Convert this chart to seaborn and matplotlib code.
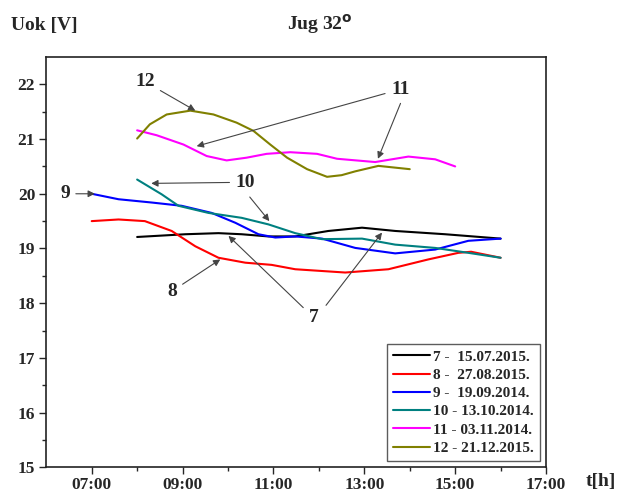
import pandas as pd
import matplotlib.pyplot as plt
import seaborn as sns

# hours of day, with the voltage Uok [V]
t7 = [8.0, 9.06, 9.79, 10.30, 10.89, 11.48, 12.21, 12.95, 13.68, 14.78, 16.0]
u7 = [19.21, 19.26, 19.28, 19.26, 19.22, 19.22, 19.32, 19.38, 19.32, 19.26, 19.18]

t8 = [7.0, 7.59, 8.17, 8.76, 9.28, 9.79, 10.38, 10.96, 11.48, 12.58, 13.53, 14.41, 15.07, 15.35, 16.0]
u8 = [19.50, 19.53, 19.50, 19.32, 19.04, 18.83, 18.74, 18.70, 18.62, 18.56, 18.62, 18.80, 18.92, 18.94, 18.83]

t9 = [7.0, 7.59, 8.32, 8.98, 9.64, 10.16, 10.67, 11.04, 11.48, 12.07, 12.80, 13.68, 14.56, 15.29, 16.0]
u9 = [20.0, 19.90, 19.84, 19.78, 19.65, 19.47, 19.26, 19.20, 19.22, 19.18, 19.01, 18.91, 18.98, 19.14, 19.18]

t10 = [8.0, 8.54, 8.91, 9.57, 10.30, 10.89, 11.48, 12.07, 12.95, 13.68, 14.56, 15.29, 16.0]
u10 = [20.26, 19.99, 19.78, 19.65, 19.56, 19.44, 19.28, 19.17, 19.18, 19.07, 19.01, 18.92, 18.83]

t11 = [8.0, 8.43, 9.02, 9.53, 9.97, 10.41, 10.85, 11.37, 11.96, 12.40, 13.24, 13.97, 14.56, 15.0]
u11 = [21.16, 21.07, 20.90, 20.69, 20.61, 20.66, 20.73, 20.76, 20.73, 20.64, 20.58, 20.68, 20.63, 20.50]

t12 = [8.0, 8.28, 8.65, 9.17, 9.68, 10.19, 10.56, 10.93, 11.30, 11.74, 12.18, 12.50, 12.80, 13.31, 14.0]
u12 = [21.01, 21.27, 21.45, 21.52, 21.45, 21.30, 21.15, 20.90, 20.66, 20.45, 20.31, 20.34, 20.41, 20.51, 20.45]

labels = ['7 -  15.07.2015.', '8 -  27.08.2015.', '9 -  19.09.2014.',
          '10 - 13.10.2014.', '11 - 03.11.2014.', '12 - 21.12.2015.']
colors = ['#000000', '#ff0000', '#0000ff', '#008080', '#ff00ff', '#808000']
x_ticks = [7, 9, 11, 13, 15, 17]
x_ticklabels = ['07:00', '09:00', '11:00', '13:00', '15:00', '17:00']

frames = []
for lab, t, u in zip(labels, [t7, t8, t9, t10, t11, t12], [u7, u8, u9, u10, u11, u12]):
    frames.append(pd.DataFrame({'t': t, 'Uok': u, 'serija': lab}))
df = pd.concat(frames, ignore_index=True)

sns.set_style('ticks')
plt.rcParams['font.family'] = ['Liberation Serif', 'DejaVu Serif']
plt.rcParams['font.weight'] = 'bold'

fig = plt.figure(figsize=(6.17, 4.96), dpi=100)
ax = fig.add_axes([0.075, 0.058, 0.81, 0.827])

sns.lineplot(data=df, x='t', y='Uok', hue='serija', hue_order=labels,
             palette=colors, sort=False, lw=1.5, ax=ax)

ax.set_xlim(6, 17)
ax.set_ylim(15, 22.5)
ax.set_xticks(x_ticks)
ax.set_xticklabels(x_ticklabels)
ax.set_xticks([8, 10, 12, 14, 16], minor=True)
ax.set_yticks(range(15, 23))
ax.set_yticks([15.5 + i for i in range(7)], minor=True)
ax.tick_params(axis='both', which='major', direction='out', length=5, width=1,
               labelsize=12.5, pad=3)
ax.tick_params(axis='both', which='minor', direction='out', length=3, width=1)
ax.tick_params(axis='x', pad=2)
for lab in ax.get_xticklabels() + ax.get_yticklabels():
    lab.set_fontweight('bold')
for s in ax.spines.values():
    s.set_linewidth(1.2)
    s.set_color('#222222')
ax.set_xlabel('')
ax.set_ylabel('')

fig.text(0.018, 0.94, 'Uok [V]', fontsize=14, fontweight='bold')
fig.text(0.518, 0.94, r'Jug 32$^{\mathrm{o}}$', fontsize=14, fontweight='bold', ha='center')
fig.text(0.950, 0.02, 't[h]', fontsize=14, fontweight='bold', ha='left')

leg = ax.legend(loc='lower right', fontsize=11, frameon=True, fancybox=False,
                handlelength=2.4, handletextpad=0.2, borderpad=0.4,
                labelspacing=0.3, borderaxespad=0.4)
leg.get_frame().set_edgecolor('#333333')
leg.get_frame().set_linewidth(1.0)
for txt in leg.get_texts():
    txt.set_fontweight('bold')

arrow = dict(arrowstyle='-|>', color='#444444', lw=0.8, mutation_scale=10,
             shrinkA=2, shrinkB=0)
fs = 14
ax.annotate('12', xy=(9.28, 21.52), xytext=(8.17, 22.05), fontsize=fs,
            fontweight='bold', ha='center', va='center', arrowprops=arrow)
ax.annotate('11', xy=(9.31, 20.87), xytext=(13.79, 21.91), fontsize=fs,
            fontweight='bold', ha='center', va='center', arrowprops=arrow)
ax.annotate('', xy=(13.30, 20.64), xytext=(13.82, 21.70), arrowprops=arrow)
ax.annotate('10', xy=(8.31, 20.19), xytext=(10.38, 20.21), fontsize=fs,
            fontweight='bold', ha='center', va='center', arrowprops=arrow)
ax.annotate('', xy=(10.91, 19.50), xytext=(10.44, 19.98), arrowprops=arrow)
ax.annotate('9', xy=(7.07, 20.0), xytext=(6.41, 20.0), fontsize=fs,
            fontweight='bold', ha='center', va='center', arrowprops=arrow)
ax.annotate('8', xy=(9.83, 18.80), xytext=(8.77, 18.22), fontsize=fs,
            fontweight='bold', ha='center', va='center', arrowprops=arrow)
ax.annotate('7', xy=(10.01, 19.23), xytext=(11.88, 17.74), fontsize=fs,
            fontweight='bold', ha='center', va='center', arrowprops=arrow)
ax.annotate('', xy=(13.39, 19.29), xytext=(12.12, 17.92), arrowprops=arrow)

fig.savefig('out.png', dpi=100)
plt.close(fig)
